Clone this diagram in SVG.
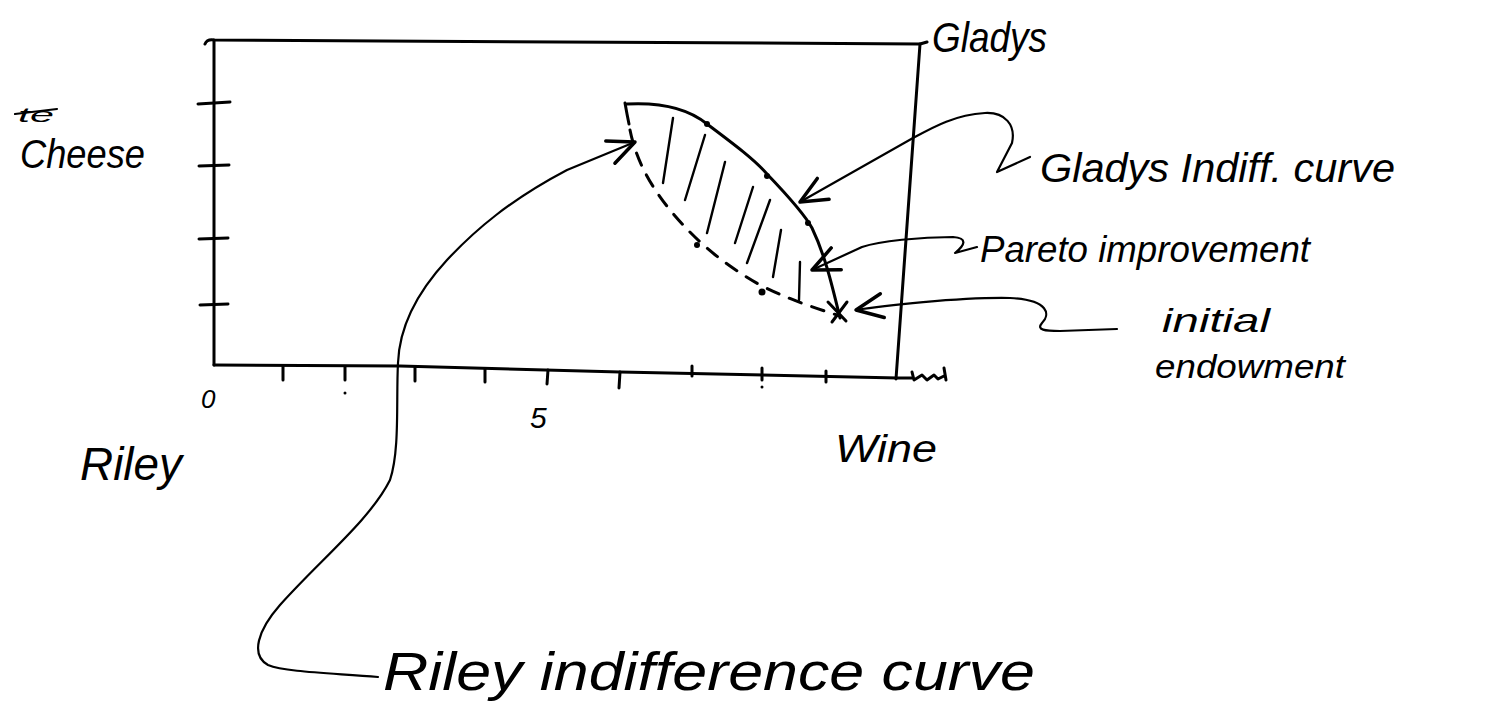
<svg xmlns="http://www.w3.org/2000/svg" width="1495" height="711" viewBox="0 0 1495 711">
<style>
.ax{fill:none;stroke:#000;stroke-width:3;stroke-linecap:round;stroke-linejoin:round}
.cv{fill:none;stroke:#000;stroke-width:3;stroke-linecap:round;stroke-linejoin:round}
.ld{fill:none;stroke:#000;stroke-width:2.2;stroke-linecap:round;stroke-linejoin:round}
.ht{fill:none;stroke:#000;stroke-width:2.4;stroke-linecap:round}
.tx{font-family:"Liberation Sans","DejaVu Sans",sans-serif;font-style:italic;fill:#000}
.dot{fill:#000}
</style>
<defs>
<marker id="arr" markerUnits="userSpaceOnUse" markerWidth="40" markerHeight="40" viewBox="-24 -14 30 28" refX="0" refY="0" orient="auto">
<path d="M-20,-9 L0,0 L-20,9" fill="none" stroke="#000" stroke-width="2.6" stroke-linecap="round" stroke-linejoin="round"/>
</marker>
</defs>

<g id="box">
<path class="ax" d="M205,44 Q207,39 214,40 L920,44 L927,42"/>
<path class="ax" d="M214,40 L214,365"/>
<path class="ax" d="M920,44 L896,379"/>
<path class="ax" d="M214,365 L400,366 L620,372 L898,378 L912,378"/>
<path class="ax" d="M912,372 L914,380 L922,375 L927,380 L934,375 L938,379 L944,376 M944,368 L946,380"/>
</g>

<g id="y-ticks">
<path class="ax" d="M198,104 L230,102 M199,166 L229,165 M199,239 L228,238 M200,305 L228,304"/>
</g>

<g id="x-ticks">
<path class="ax" d="M283,366 L283,380 M345,367 L345,380 M415,367 L415,381 M485,369 L485,382 M548,370 L547,384 M620,372 L619,388 M692,366 L692,376 M762,368 L762,380 M826,371 L826,382"/>
<circle class="dot" cx="345" cy="393" r="1.5"/>
<circle class="dot" cx="762" cy="387" r="1.5"/>
</g>

<g id="axis-labels">
<text class="tx" x="201" y="408" font-size="26">0</text>
<text class="tx" x="530" y="428" font-size="30">5</text>
<text class="tx" x="18" y="122" font-size="20" textLength="36" lengthAdjust="spacingAndGlyphs">te</text>
<path class="ld" d="M15,114 L57,109"/>
<text class="tx" x="20" y="168" font-size="40" textLength="125" lengthAdjust="spacingAndGlyphs">Cheese</text>
<text class="tx" x="80" y="480" font-size="46" textLength="102" lengthAdjust="spacingAndGlyphs">Riley</text>
<text class="tx" x="932" y="52" font-size="42" textLength="115" lengthAdjust="spacingAndGlyphs">Gladys</text>
<text class="tx" x="835" y="462" font-size="38" textLength="102" lengthAdjust="spacingAndGlyphs">Wine</text>
</g>

<g id="gladys-curve">
<path class="cv" d="M625,103 L627,114 L629,124"/>
<path class="cv" d="M627,104 C665,102 690,110 707,124 C735,145 755,160 767,174 C790,198 805,215 812,228 C825,255 832,285 840,318"/>
<circle class="dot" cx="707" cy="124" r="3"/>
<circle class="dot" cx="767" cy="176" r="3"/>
<circle class="dot" cx="808" cy="223" r="3"/>
</g>

<g id="riley-curve">
<path class="cv" stroke-dasharray="13 11" d="M630,130 C636,160 650,185 670,210 C695,240 720,262 760,285 C790,300 815,308 840,316"/>
<circle class="dot" cx="697" cy="245" r="3"/>
<circle class="dot" cx="762" cy="292" r="3.5"/>
</g>

<g id="pareto-region">
<path class="ht" d="M673,118 L663,183 M705,135 L685,200 M725,162 L707,233 M753,187 L735,243 M770,200 L747,263 M781,230 L773,277 M800,262 L799,300"/>
</g>

<g id="endowment">
<path class="cv" d="M828,302 L846,321 M847,302 L832,322"/>
</g>

<g id="connectors">
<path class="ld" marker-end="url(#arr)" d="M1030,157 L997,172 L1012,143 C1016,125 1005,112 985,113 C955,115 935,126 913,138 L800,202"/>
<path class="ld" marker-end="url(#arr)" d="M977,247 L955,253 C965,245 968,238 953,237 C920,237 880,241 862,247 L812,270"/>
<path class="ld" marker-end="url(#arr)" d="M1117,329 L1060,331 C1045,331 1036,330 1042,323 C1050,315 1050,300 1010,298 C960,297 880,306 856,310"/>
<path class="ld" marker-end="url(#arr)" d="M378,677 C330,673 285,672 268,665 C250,655 258,630 280,605 C320,560 370,520 390,480 C400,450 396,400 398,363 C399,335 410,300 447,260 C475,230 510,200 567,170 L635,142"/>
</g>

<g id="labels">
<text class="tx" x="1040" y="182" font-size="40" textLength="355" lengthAdjust="spacingAndGlyphs">Gladys  Indiff. curve</text>
<text class="tx" x="980" y="262" font-size="36" textLength="330" lengthAdjust="spacingAndGlyphs">Pareto improvement</text>
<text class="tx" x="1162" y="332" font-size="34" textLength="108" lengthAdjust="spacingAndGlyphs">initial</text>
<text class="tx" x="1155" y="378" font-size="34" textLength="190" lengthAdjust="spacingAndGlyphs">endowment</text>
<text class="tx" x="383" y="690" font-size="54" textLength="652" lengthAdjust="spacingAndGlyphs">Riley  indifference curve</text>
</g>
</svg>
